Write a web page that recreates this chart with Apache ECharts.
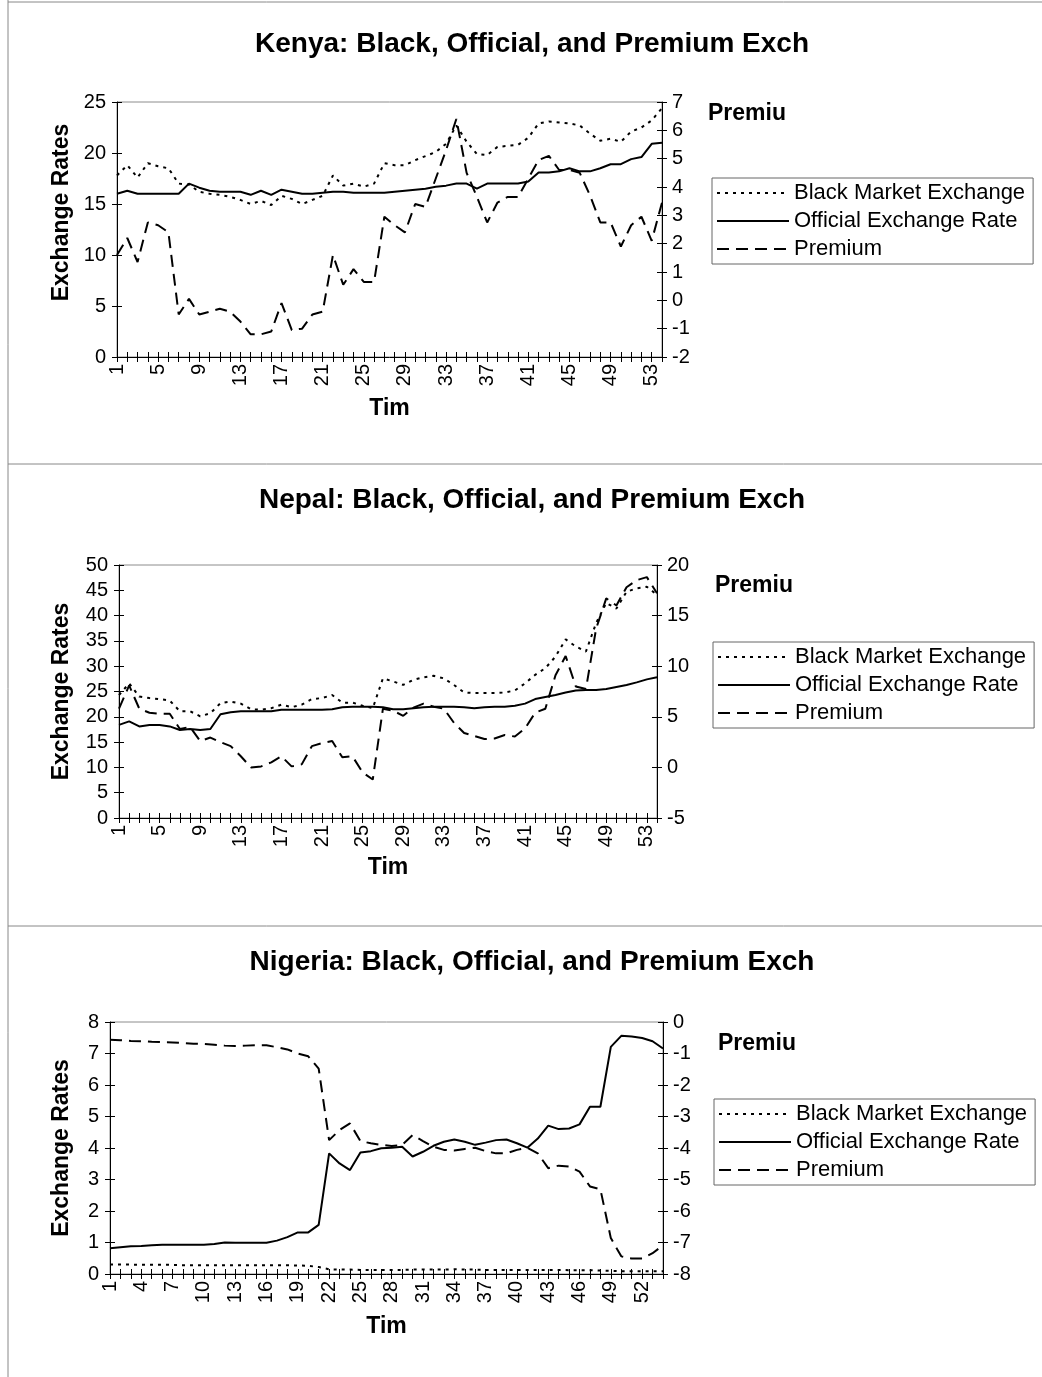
<!DOCTYPE html>
<html>
<head>
<meta charset="utf-8">
<script src="https://cdn.jsdelivr.net/npm/echarts@6/dist/echarts.min.js"></script>
<style>
  html, body { margin: 0; padding: 0; background: #fff; }
  #chart { width: 1042px; height: 1377px; }
</style>
</head>
<body>
<div id="chart"></div>
<script>
// Time periods shared by all three countries
const periods = ['1','2','3','4','5','6','7','8','9','10','11','12','13','14','15','16','17','18',
  '19','20','21','22','23','24','25','26','27','28','29','30','31','32','33','34','35','36',
  '37','38','39','40','41','42','43','44','45','46','47','48','49','50','51','52','53','54'];

// Kenya
const kenyaBlack = [17.8,18.8,17.6,19.0,18.7,18.5,17.0,16.9,16.2,16.0,
  15.9,15.7,15.4,15.0,15.3,14.9,15.8,15.5,15.0,15.4,
  15.8,17.8,16.8,17.0,16.7,17.0,19.0,18.8,18.8,19.3,
  19.7,20.1,20.9,22.7,21.1,19.9,19.8,20.6,20.7,20.8,
  21.5,22.9,23.1,23.0,22.9,22.7,21.9,21.2,21.4,21.1,
  22.1,22.5,23.2,24.4];
const kenyaOfficial = [16.0,16.3,16.0,16.0,16.0,16.0,16.0,17.0,16.6,16.3,
  16.2,16.2,16.2,15.9,16.3,15.9,16.4,16.2,16.0,16.0,
  16.1,16.2,16.2,16.1,16.1,16.1,16.1,16.2,16.3,16.4,
  16.5,16.7,16.8,17.0,17.0,16.5,17.0,17.0,17.0,17.0,
  17.2,18.1,18.1,18.2,18.5,18.2,18.2,18.5,18.9,18.9,
  19.4,19.6,20.9,21.0];
const kenyaPremium = [1.6,2.2,1.35,2.75,2.65,2.4,-0.5,0.05,-0.5,-0.4,
  -0.3,-0.4,-0.75,-1.2,-1.2,-1.1,-0.1,-1.05,-1.0,-0.5,
  -0.4,1.6,0.55,1.1,0.65,0.65,2.95,2.65,2.4,3.4,
  3.3,4.3,5.3,6.4,4.5,3.65,2.75,3.45,3.65,3.65,
  4.3,4.95,5.1,4.6,4.6,4.5,3.7,2.75,2.75,1.9,
  2.65,2.95,2.1,3.45];

// Nepal
const nepalBlack = [24.3,26.6,24.0,23.7,23.5,23.2,21.1,21.1,20.1,20.7,
  22.7,23.0,22.6,21.5,21.4,21.7,22.4,21.9,22.4,23.5,
  23.7,24.3,22.8,22.8,22.2,21.7,27.6,27.0,26.3,27.3,
  27.8,28.1,27.6,26.3,24.8,24.7,24.7,24.7,24.8,25.2,
  26.6,28.3,29.6,31.9,35.3,33.9,32.9,38.5,42.5,41.4,
  44.7,45.4,45.7,44.1];
const nepalOfficial = [18.4,19.1,18.1,18.4,18.4,18.1,17.4,17.6,17.4,17.6,
  20.5,20.9,21.1,21.1,21.1,21.1,21.4,21.4,21.4,21.4,
  21.4,21.5,21.9,22.0,22.0,22.0,21.9,21.5,21.5,21.7,
  21.9,22.0,22.0,22.0,21.9,21.7,21.9,22.0,22.0,22.2,
  22.6,23.5,23.9,24.3,24.8,25.2,25.3,25.3,25.5,25.9,
  26.3,26.8,27.4,27.8];
const nepalPremium = [5.8,8.1,5.8,5.4,5.3,5.3,3.8,4.0,2.6,2.95,
  2.5,2.1,1.1,0.0,0.1,0.5,1.1,0.1,0.3,2.1,
  2.4,2.6,1.0,1.1,-0.5,-1.2,5.8,5.6,5.1,5.9,
  6.3,6.0,5.8,4.4,3.4,3.1,2.8,2.85,3.2,3.05,
  3.85,5.4,5.8,9.1,11.0,8.0,7.75,13.7,16.7,16.0,
  17.8,18.5,18.8,17.2];

// Nigeria
const nigeriaBlack = [0.30,0.30,0.30,0.29,0.29,0.29,0.29,0.28,0.28,0.28,
  0.28,0.28,0.28,0.28,0.28,0.28,0.28,0.28,0.27,0.26,
  0.22,0.15,0.14,0.14,0.13,0.13,0.13,0.13,0.13,0.14,
  0.14,0.14,0.14,0.15,0.14,0.14,0.13,0.13,0.13,0.13,
  0.13,0.13,0.13,0.13,0.12,0.12,0.12,0.11,0.10,0.09,
  0.09,0.09,0.09,0.09];
const nigeriaOfficial = [0.82,0.85,0.88,0.89,0.91,0.93,0.93,0.93,0.93,0.93,
  0.95,1.0,0.99,0.99,0.99,0.99,1.06,1.17,1.32,1.32,
  1.56,3.83,3.51,3.30,3.86,3.90,3.99,4.01,4.04,3.73,
  3.88,4.07,4.20,4.27,4.20,4.10,4.17,4.25,4.27,4.15,
  4.01,4.30,4.71,4.60,4.62,4.75,5.31,5.31,7.21,7.56,
  7.54,7.49,7.39,7.16];
const nigeriaPremium = [-0.56,-0.58,-0.6,-0.61,-0.63,-0.64,-0.65,-0.67,-0.69,-0.7,
  -0.72,-0.75,-0.76,-0.75,-0.74,-0.74,-0.8,-0.87,-1.0,-1.09,
  -1.48,-3.75,-3.43,-3.22,-3.78,-3.85,-3.9,-3.94,-3.9,-3.59,
  -3.78,-3.96,-4.06,-4.08,-4.03,-3.99,-4.1,-4.17,-4.17,-4.06,
  -3.99,-4.17,-4.64,-4.56,-4.59,-4.75,-5.22,-5.31,-6.86,-7.44,
  -7.51,-7.51,-7.34,-7.09];

// Axis ranges [min, max, step]
const kenyaRateAxis = [0, 25, 5];
const kenyaPremAxis = [-2, 7, 1];
const nepalRateAxis = [0, 50, 5];
const nepalPremAxis = [-5, 20, 5];
const nigeriaRateAxis = [0, 8, 1];
const nigeriaPremAxis = [-8, 0, 1];

const seriesNames = ['Black Market Exchange', 'Official Exchange Rate', 'Premium'];

const FONT = '"Liberation Sans", Arial, Helvetica, sans-serif';

const panels = [
  { title: 'Kenya: Black, Official, and Premium Exch',
    black: kenyaBlack, official: kenyaOfficial, premium: kenyaPremium,
    rate: kenyaRateAxis, prem: kenyaPremAxis, labelStep: 4,
    grid: { left: 117, top: 102, width: 545, height: 255 },
    titleTop: 25, premiu: [708, 102], legend: [712, 178], yNameGap: 44, yNameShift: 34, xNameGap: 40 },
  { title: 'Nepal: Black, Official, and Premium Exch',
    black: nepalBlack, official: nepalOfficial, premium: nepalPremium,
    rate: nepalRateAxis, prem: nepalPremAxis, labelStep: 4,
    grid: { left: 119, top: 565, width: 538, height: 253 },
    titleTop: 481, premiu: [715, 574], legend: [713, 642], yNameGap: 46, yNameShift: 0, xNameGap: 38 },
  { title: 'Nigeria: Black, Official, and Premium Exch',
    black: nigeriaBlack, official: nigeriaOfficial, premium: nigeriaPremium,
    rate: nigeriaRateAxis, prem: nigeriaPremAxis, labelStep: 3,
    grid: { left: 110, top: 1022, width: 553, height: 252 },
    titleTop: 943, premiu: [718, 1032], legend: [714, 1099], yNameGap: 37, yNameShift: 0, xNameGap: 41 }
];

const text = (size, bold) => ({ fontFamily: FONT, fontSize: size, fontWeight: bold ? 'bold' : 'normal', color: '#000' });

const option = {
  animation: false,
  backgroundColor: '#fff',
  title: [], legend: [], grid: [], xAxis: [], yAxis: [], series: [],
  graphic: [
    { type: 'line', shape: { x1: 8, y1: 0, x2: 8, y2: 1377 }, style: { stroke: '#888', lineWidth: 1 } },
    { type: 'line', shape: { x1: 8, y1: 2, x2: 1042, y2: 2 }, style: { stroke: '#888', lineWidth: 1 } },
    { type: 'line', shape: { x1: 8, y1: 464, x2: 1042, y2: 464 }, style: { stroke: '#888', lineWidth: 1 } },
    { type: 'line', shape: { x1: 8, y1: 926, x2: 1042, y2: 926 }, style: { stroke: '#888', lineWidth: 1 } }
  ]
};

function valueAxis(k, range, position, extra) {
  return Object.assign({
    type: 'value', gridIndex: k, position: position,
    min: range[0], max: range[1], interval: range[2],
    axisLine: { show: true, lineStyle: { color: '#000', width: 1 } },
    axisTick: { show: true, inside: true, length: 5, lineStyle: { color: '#000' } },
    axisLabel: Object.assign({ margin: 11 }, text(20, false)),
    splitLine: { show: false }
  }, extra || {});
}

function tickTwin(axis) {
  // second copy of an axis carrying the outward half of the cross ticks
  return Object.assign({}, axis, {
    name: '', axisLine: { show: false },
    axisTick: Object.assign({}, axis.axisTick, { inside: false }),
    axisLabel: { show: false }
  });
}

panels.forEach((p, k) => {
  option.grid.push(Object.assign({ show: true, borderColor: '#8c8c8c', borderWidth: 1 }, p.grid));

  option.title.push({ text: p.title, left: 527, top: p.titleTop, textAlign: 'center', textStyle: text(28, true) });
  option.title.push({ text: 'Premiu', left: p.premiu[0], top: p.premiu[1], textStyle: text(23, true), padding: 0 });

  const xMain = {
    type: 'category', gridIndex: k, data: periods, boundaryGap: false, position: 'bottom',
    name: 'Tim', nameLocation: 'middle', nameGap: p.xNameGap, nameTextStyle: text(23, true),
    axisLine: { show: true, lineStyle: { color: '#000', width: 1 } },
    axisTick: { show: true, inside: true, length: 5, interval: 0, lineStyle: { color: '#000' } },
    axisLabel: Object.assign({ interval: p.labelStep - 1, rotate: 90, margin: 7 }, text(20, false)),
    splitLine: { show: false }
  };
  option.xAxis.push(xMain, tickTwin(xMain));

  const yLeft = valueAxis(k, p.rate, 'left', {
    name: 'Exchange Rates', nameLocation: 'middle', nameGap: p.yNameGap, nameRotate: 90,
    nameTextStyle: Object.assign({ padding: [0, 0, 0, p.yNameShift] }, text(23, true))
  });
  const yRight = valueAxis(k, p.prem, 'right');
  yRight.axisLabel.margin = 10;
  option.yAxis.push(yLeft, tickTwin(yLeft), yRight, tickTwin(yRight));

  const xi = 2 * k, yi = 4 * k;
  option.series.push(
    { type: 'line', name: seriesNames[0], xAxisIndex: xi, yAxisIndex: yi, data: p.black,
      symbol: 'none', itemStyle: { color: '#000' }, lineStyle: { color: '#000', width: 2, type: [3, 5] } },
    { type: 'line', name: seriesNames[1], xAxisIndex: xi, yAxisIndex: yi, data: p.official,
      symbol: 'none', itemStyle: { color: '#000' }, lineStyle: { color: '#000', width: 2, type: 'solid' } },
    { type: 'line', name: seriesNames[2], xAxisIndex: xi, yAxisIndex: yi + 2, data: p.premium,
      symbol: 'none', itemStyle: { color: '#000' }, lineStyle: { color: '#000', width: 2, type: [12, 7] } }
  );

  option.legend.push({
    orient: 'vertical', left: p.legend[0], top: p.legend[1],
    data: seriesNames, selectedMode: false,
    itemWidth: 72, itemHeight: 14, itemGap: 6, padding: [4, 8, 4, 4],
    itemStyle: { opacity: 0 },
    borderColor: '#666', borderWidth: 1,
    textStyle: text(22, false)
  });
});

const chart = echarts.init(document.getElementById('chart'), null, { renderer: 'canvas' });
chart.setOption(option);
</script>
</body>
</html>
